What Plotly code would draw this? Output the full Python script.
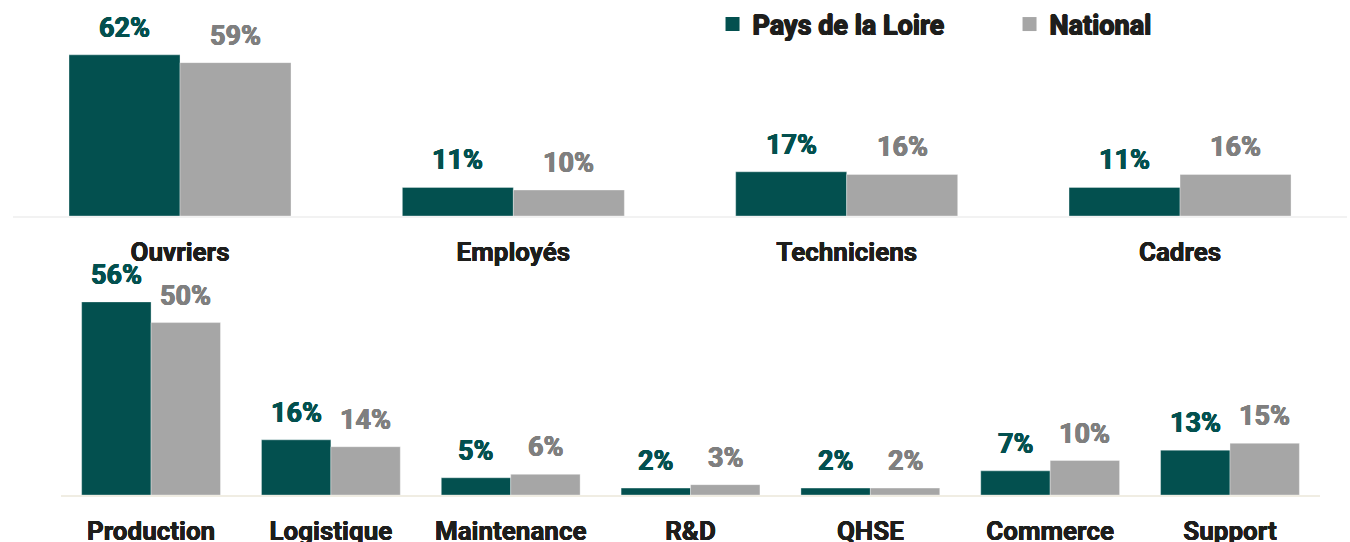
import plotly.graph_objects as go

series_names = ["Pays de la Loire", "National"]

top_categories = ["Ouvriers", "Employés", "Techniciens", "Cadres"]
top_region = [62, 11, 17, 11]
top_national = [59, 10, 16, 16]

bottom_categories = ["Production", "Logistique", "Maintenance", "R&D", "QHSE", "Commerce", "Support"]
bottom_region = [56, 16, 5, 2, 2, 7, 13]
bottom_national = [50, 14, 6, 3, 2, 10, 15]

TEAL = "#03504F"
GREY = "#A6A6A6"
GREY_TXT = "#7F7F7F"
DARK = "#1E1E1C"
FONT = "Roboto"


def heavy(color, d=0.6):
    return (f"{d}px 0 0 {color}, -{d}px 0 0 {color}, 0 {d/2}px 0 {color}, 0 -{d/2}px 0 {color}")


W_TOP = 0.333
W_BOT = 0.386

fig = go.Figure()


def add_pair(cats, reg, nat, w, xa, ya):
    fig.add_trace(go.Bar(x=cats, y=reg, name=series_names[0], marker_color=TEAL,
                         marker_line=dict(width=0.5, color="rgba(255,255,255,0.7)"),
                         width=w, offset=-w, xaxis=xa, yaxis=ya,
                         showlegend=False, hoverinfo="skip"))
    fig.add_trace(go.Bar(x=cats, y=nat, name=series_names[1], marker_color=GREY,
                         marker_line=dict(width=0.5, color="rgba(255,255,255,0.7)"),
                         width=w, offset=0, xaxis=xa, yaxis=ya,
                         showlegend=False, hoverinfo="skip"))
    for i, (a, b) in enumerate(zip(reg, nat)):
        fig.add_annotation(x=i - w / 2, y=a, xref=xa, yref=ya, text=f"{a}%",
                           showarrow=False, yanchor="middle", yshift=27,
                           font=dict(family=FONT, size=27, color=TEAL, weight=700,
                                     shadow=heavy(TEAL)))
        fig.add_annotation(x=i + w / 2, y=b, xref=xa, yref=ya, text=f"{b}%",
                           showarrow=False, yanchor="middle", yshift=27,
                           font=dict(family=FONT, size=27, color=GREY_TXT, weight=700,
                                     shadow=heavy(GREY_TXT)))


add_pair(top_categories, top_region, top_national, W_TOP, "x", "y")
add_pair(bottom_categories, bottom_region, bottom_national, W_BOT, "x2", "y2")

# legend entries
for name, col in zip(series_names, [TEAL, GREY]):
    fig.add_trace(go.Scatter(x=[None], y=[None], mode="markers", name=name,
                             marker=dict(symbol="square", size=14, color=col),
                             xaxis="x", yaxis="y", hoverinfo="skip"))

axis_common = dict(showgrid=False, zeroline=False, showline=True, automargin=False,
                   linewidth=2, ticks="outside", ticklen=0, ticklabelstandoff=12,
                   tickfont=dict(family=FONT, size=26, color=DARK, weight=700,
                                 shadow=heavy(DARK, 0.25)),
                   fixedrange=True)
yaxis_common = dict(visible=False, fixedrange=True, automargin=False)

fig.update_layout(
    width=1350, height=542, autosize=False,
    margin=dict(l=0, r=0, t=0, b=0, autoexpand=False),
    paper_bgcolor="white", plot_bgcolor="white",
    barmode="overlay",
    xaxis=dict(domain=[0.00988, 0.99756], range=[-0.5, 3.5], anchor="y",
               linecolor="#F2F2F2", **axis_common),
    yaxis=dict(domain=[0.6015, 1.0], range=[0, 83.1], **yaxis_common),
    xaxis2=dict(domain=[0.0453, 0.9777], range=[-0.5, 6.5], anchor="y2",
                linecolor="#F0EDE3", **axis_common),
    yaxis2=dict(domain=[0.0867, 0.4926], range=[0, 63.8], **yaxis_common),
    legend=dict(orientation="h", x=0.5278, y=1.0, xanchor="left", yanchor="top",
                font=dict(family=FONT, size=27, color=DARK, weight=700, shadow=heavy(DARK, 0.7)),
                traceorder="normal", entrywidth=252, itemsizing="trace",
                bgcolor="rgba(0,0,0,0)"),
)

post = ("document.body.style.margin='0';document.body.style.padding='0';"
        "document.body.style.overflow='hidden';"
        "var gd=document.getElementById('{plot_id}');"
        "Plotly.relayout(gd,{width:1350,height:542});")

fig.write_html("out.html", post_script=post,
               config={"responsive": False, "displayModeBar": False})
